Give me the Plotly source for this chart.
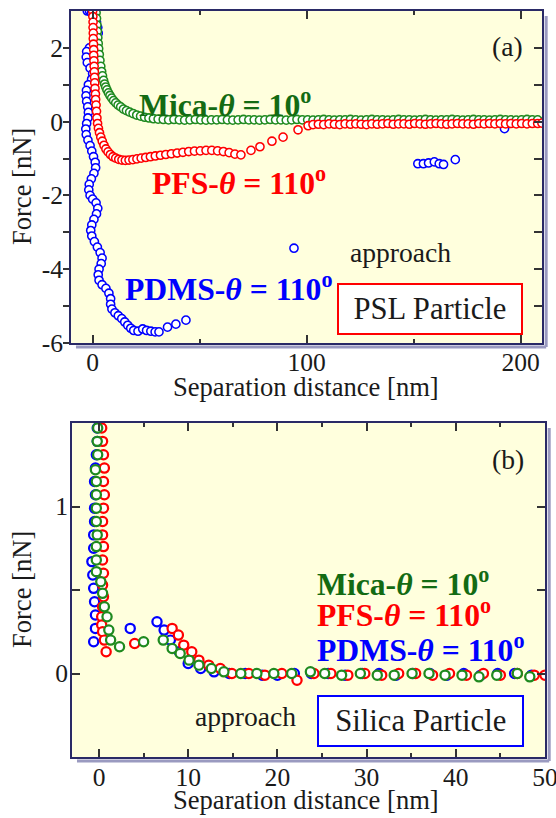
import plotly.graph_objects as go

# ---------------- Panel (a): PSL particle ----------------
mica_a_x = [1.6, 1.8, 2.0, 2.2, 2.4, 2.6, 2.8, 3.1, 3.4, 3.8, 4.2, 4.6, 5.1, 5.6, 6.1, 6.7, 7.4, 8.1,
            8.9, 9.8, 10.8, 11.9, 13.1, 14.4, 15.8, 17.3, 18.9, 20.6, 22.4, 24.3, 26.3, 28.4, 30.6, 33.0,
            35.5, 38.0, 40.5, 43.0, 45.5, 48.0, 50.5, 53.0, 55.5, 58.0, 60.5, 63.0, 65.5, 68.0, 70.5,
            73.0, 75.5, 78.0, 80.5, 83.0, 85.5, 88.0, 90.5, 93.0, 95.5, 98.0, 100.5, 103.0, 105.5, 108.0,
            110.5, 113.0, 115.5, 118.0, 120.5, 123.0, 125.5, 128.0, 130.5, 133.0, 135.5, 138.0, 140.5,
            143.0, 145.5, 148.0, 150.5, 153.0, 155.5, 158.0, 160.5, 163.0, 165.5, 168.0, 170.5, 173.0,
            175.5, 178.0, 180.5, 183.0, 185.5, 188.0, 190.5, 193.0, 195.5, 198.0, 200.5, 203.0, 205.5, 208.0]
mica_a_y = [2.95, 2.8, 2.62, 2.45, 2.28, 2.12, 1.98, 1.82, 1.66, 1.5, 1.36, 1.24, 1.12, 1.02, 0.94, 0.86,
            0.78, 0.71, 0.64, 0.57, 0.51, 0.45, 0.40, 0.34, 0.30, 0.26, 0.22, 0.18, 0.15, 0.12, 0.10, 0.08,
            0.07, 0.06, 0.05, 0.06, 0.05, 0.04, 0.05, 0.06, 0.05, 0.04, 0.05, 0.05, 0.06, 0.05, 0.04, 0.05,
            0.06, 0.05, 0.05, 0.04, 0.05, 0.06, 0.05, 0.05, 0.04, 0.05, 0.06, 0.05, 0.05, 0.04, 0.05, 0.06,
            0.05, 0.04, 0.05, 0.05, 0.06, 0.05, 0.04, 0.05, 0.06, 0.05, 0.05, 0.04, 0.05, 0.06, 0.05, 0.05,
            0.04, 0.05, 0.06, 0.05, 0.04, 0.05, 0.05, 0.06, 0.05, 0.04, 0.05, 0.06, 0.05, 0.05, 0.04, 0.05,
            0.06, 0.05, 0.05, 0.04, 0.05, 0.06, 0.05, 0.05]

pfs_a_x = [0.0, 0.1, 0.2, 0.2, 0.3, 0.3, 0.4, 0.5, 0.5, 0.6, 0.7, 0.8, 0.9, 1.0, 1.1, 1.3, 1.4, 1.6, 1.8,
           2.0, 2.3, 2.7, 3.2, 3.8, 4.5, 5.3, 6.2, 7.2, 8.3, 9.5, 10.8, 12.2, 13.7, 15.3, 17.0, 18.8, 20.7,
           22.7, 24.8, 27.0, 29.3, 31.7, 34.2, 36.8, 39.5, 42.2, 44.9, 47.6, 50.3, 53.0, 55.7, 58.4, 61.1,
           63.8, 66.5, 69.3, 74.0, 78.2, 83.8, 89.0, 96.0, 100.7, 103.0, 105.5, 108.0, 110.5, 113.0, 115.5,
           118.0, 120.5, 123.0, 125.5, 128.0, 130.5, 133.0, 135.5, 138.0, 140.5, 143.0, 145.5, 148.0, 150.5,
           153.0, 155.5, 158.0, 160.5, 163.0, 165.5, 168.0, 170.5, 173.0, 175.5, 178.0, 180.5, 183.0, 185.5,
           188.0, 190.5, 193.0, 195.5, 198.0, 200.5, 203.0, 205.5, 208.0, 210.0]
pfs_a_y = [3.0, 2.85, 2.7, 2.55, 2.4, 2.25, 2.1, 1.95, 1.8, 1.65, 1.5, 1.35, 1.2, 1.05, 0.9, 0.75, 0.6, 0.45,
           0.28, 0.1, -0.05, -0.18, -0.3, -0.42, -0.53, -0.64, -0.74, -0.82, -0.89, -0.95, -0.99, -1.02,
           -1.04, -1.05, -1.04, -1.03, -1.01, -0.99, -0.97, -0.95, -0.93, -0.91, -0.89, -0.87, -0.85, -0.83,
           -0.81, -0.8, -0.79, -0.78, -0.78, -0.79, -0.81, -0.84, -0.88, -0.9, -0.78, -0.68, -0.53, -0.42,
           -0.22, -0.11, -0.08, -0.07, -0.08, -0.06, -0.07, -0.08, -0.06, -0.07, -0.06, -0.07, -0.08, -0.06,
           -0.07, -0.06, -0.05, -0.07, -0.06, -0.06, -0.07, -0.05, -0.06, -0.07, -0.06, -0.05, -0.06, -0.07,
           -0.06, -0.05, -0.06, -0.06, -0.07, -0.05, -0.06, -0.05, -0.06, -0.05, -0.06, -0.05, -0.06,
           -0.05, -0.06, -0.05, -0.05, -0.04]

pdms_a_x = [-2.5, -1.5, -0.5, 0.8, 1.8, 2.4, 2.6, 2.2, 0.5, -1.5, -2.8, -3.0, -2.5, -1.2, 0.0, -0.5, -2.0,
            -2.9, -3.1, -2.8, -2.3, -2.0, -2.2, -2.8, -3.2, -3.0, -2.2, -1.2, -0.4, 0.4, 1.2, 1.4, 0.6, -0.6,
            -1.6, -1.8, -1.2, 0.0, 1.6, 2.4, 1.8, 0.6, -0.4, -0.9, -0.4, 0.8, 2.2, 3.5, 4.4, 4.0, 3.0, 2.6,
            3.0, 4.4, 6.2, 7.6, 8.4, 8.4, 9.0, 10.4, 12.0, 13.6, 15.0, 16.4, 17.8, 19.2, 21.2, 23.4, 25.2,
            27.2, 29.2, 31.0, 35.0, 38.9, 43.6, 94.1, 152.0, 154.6, 157.0, 159.7, 162.0, 164.0, 169.5,
            192.5, 210.0]
pdms_a_y = [3.0, 3.0, 2.95, 2.85, 2.7, 2.55, 2.4, 2.25, 2.1, 2.0, 1.9, 1.75, 1.6, 1.45, 1.3, 1.15, 1.0,
            0.85, 0.7, 0.55, 0.4, 0.25, 0.1, -0.05, -0.2, -0.35, -0.5, -0.65, -0.8, -0.95, -1.1, -1.25,
            -1.4, -1.55, -1.7, -1.85, -2.0, -2.1, -2.2, -2.35, -2.5, -2.65, -2.8, -2.95, -3.1, -3.25, -3.4,
            -3.55, -3.7, -3.85, -4.0, -4.15, -4.3, -4.42, -4.52, -4.65, -4.8, -4.95, -5.08, -5.18, -5.26,
            -5.34, -5.43, -5.52, -5.6, -5.66, -5.68, -5.62, -5.66, -5.68, -5.7, -5.7, -5.57, -5.49, -5.38,
            -3.43, -1.14, -1.14, -1.12, -1.09, -1.14, -1.16, -1.03, -0.19, -0.02]

# ---------------- Panel (b): Silica particle ----------------
mica_b_x = [-0.15, -0.2, -0.15, -0.4, -0.3, -0.3, -0.3, -0.3, -0.2, -0.3, -0.3, -0.3, 0.2, 0.4, 0.6, 0.9,
            1.1, 1.3, 2.3, 5.0, 7.2, 8.2, 9.1, 10.1, 11.2, 12.6, 14.0, 15.9, 17.7, 19.6, 21.6, 23.7, 25.3,
            27.2, 29.3, 31.2, 33.1, 35.1, 37.0, 38.8, 40.7, 42.6, 44.6, 46.9, 48.3]
mica_b_y = [1.47, 1.39, 1.31, 1.22, 1.15, 1.07, 0.99, 0.91, 0.83, 0.76, 0.68, 0.61, 0.55, 0.48, 0.40, 0.34,
            0.26, 0.20, 0.16, 0.19, 0.20, 0.15, 0.12, 0.08, 0.05, 0.03, 0.01, 0.0, 0.0, 0.0, 0.0, 0.01, 0.0,
            -0.01, 0.0, -0.01, -0.01, 0.0, 0.0, -0.01, -0.01, -0.02, -0.01, 0.0, -0.02]

pfs_b_x = [0.3, 0.4, 0.5, 0.6, 0.5, 0.6, 0.5, 0.4, 0.4, 0.5, 0.4, 0.5, 0.4, 0.5, 0.4, 0.3, 0.3, 0.4, 0.6,
           0.8, 4.0, 8.2, 8.9, 9.5, 10.4, 11.2, 12.3, 13.6, 14.9, 16.8, 18.6, 20.5, 22.2, 24.1, 26.0, 27.9,
           29.8, 31.7, 33.6, 35.5, 37.4, 39.3, 41.2, 43.1, 45.0, 46.9, 48.8, 50.0]
pfs_b_y = [1.47, 1.39, 1.31, 1.23, 1.15, 1.07, 0.99, 0.91, 0.83, 0.76, 0.68, 0.60, 0.53, 0.46, 0.40, 0.34,
           0.29, 0.25, 0.20, 0.13, 0.18, 0.27, 0.23, 0.17, 0.13, 0.08, 0.05, 0.03, 0.0, 0.0, -0.01, 0.0,
           -0.04, 0.0, 0.0, -0.01, 0.0, -0.01, 0.0, 0.0, -0.01, 0.0, -0.01, 0.0, -0.01, 0.0, -0.01, -0.01]

pdms_b_x = [-0.2, -0.2, -0.3, -0.4, -0.5, -0.4, -0.5, -0.5, -0.6, -0.6, -0.8, -0.7, -0.6, -0.5, -0.4, -0.4,
            -0.6, 3.5, 6.5, 7.3, 8.0, 9.0, 10.0, 11.4, 12.9, 14.6, 16.4, 18.3, 20.0, 21.9, 23.8, 25.7, 27.6,
            29.5, 31.4, 33.3, 35.2, 37.1, 39.0, 40.9, 42.8, 44.7, 46.6, 48.5]
pdms_b_y = [1.47, 1.39, 1.31, 1.23, 1.15, 1.07, 0.99, 0.91, 0.83, 0.75, 0.67, 0.59, 0.51, 0.43, 0.35, 0.27,
            0.19, 0.27, 0.31, 0.26, 0.20, 0.13, 0.06, 0.03, 0.01, 0.0, 0.0, -0.01, -0.01, 0.0, 0.0, 0.0,
            -0.01, 0.0, 0.0, -0.01, 0.0, 0.0, -0.01, 0.0, -0.01, 0.0, 0.0, -0.01]

# tick labels
a_xticks = [0, 100, 200]
a_yticks = [-6, -4, -2, 0, 2]
a_yticktext = ["-6", "-4", "-2", "0", "2"]
b_xticks = [0, 10, 20, 30, 40, 50]
b_yticks = [0, 1]

GREEN = "#1f8a1f"
GREEN_TXT = "#136b13"
RED = "#ff0000"
BLUE = "#0000ff"
FONT = "Liberation Serif"
BG = "#FFFFDD"
FRAME = "#2a2a66"
SHADOW = "#9a9ac0"
INK = "#1a1a1a"

# target picture size and the size of the drawn figure (the photographed area is a bit larger
# than the window, so the figure is drawn at that size; all positions are fractions of it)
W, H = 556, 818
FW, FH = 571, 833
K = (FW / W + FH / H) / 2  # pixel-size scale


def px(v):
    return v * K


fig = go.Figure()


def add(x, y, color, xa, ya, size, lw):
    fig.add_trace(go.Scatter(x=x, y=y, mode="markers", xaxis=xa, yaxis=ya, showlegend=False,
                             marker=dict(symbol="circle", size=px(size), color="white",
                                         line=dict(color=color, width=px(lw)))))


add(pdms_a_x, pdms_a_y, BLUE, "x", "y", 8, 1.5)
add(mica_a_x, mica_a_y, GREEN, "x", "y", 8, 1.5)
add(pfs_a_x, pfs_a_y, RED, "x", "y", 8, 1.5)
add(pdms_b_x, pdms_b_y, BLUE, "x2", "y2", 9, 2.2)
add(pfs_b_x, pfs_b_y, RED, "x2", "y2", 9, 2.2)
add(mica_b_x, mica_b_y, GREEN, "x2", "y2", 9, 2.2)
# carrier for the inward right-hand ticks of panel (a)
fig.add_trace(go.Scatter(x=[None], y=[None], xaxis="x", yaxis="y3", showlegend=False, hoverinfo="skip"))

tickfont = dict(family=FONT, size=px(25), color=INK)
titlefont = dict(family=FONT, size=px(26), color=INK)

common = dict(showline=True, linecolor=FRAME, linewidth=2, showgrid=False, zeroline=False,
              tickcolor="#333333", tickwidth=1.5, tickfont=tickfont)

fig.update_layout(
    width=FW, height=FH, paper_bgcolor="white", plot_bgcolor=BG,
    margin=dict(l=0, r=0, t=0, b=0),
    xaxis=dict(domain=[71 / W, 540 / W], anchor="y", range=[-10, 210], tickvals=a_xticks,
               ticks="inside", ticklen=px(8), mirror="ticks",
               minor=dict(tickvals=[50, 150], ticks="inside", ticklen=px(4), tickcolor="#333333"),
               ticklabelstandoff=-5, **common),
    yaxis=dict(domain=[1 - 343 / H, 1 - 11 / H], anchor="x", range=[-6, 3], tickvals=a_yticks,
               ticktext=a_yticktext, ticks="outside", ticklen=px(6), mirror=True,
               minor=dict(tickvals=[-5, -3, -1, 1], ticks="outside", ticklen=px(6), tickcolor="#333333"),
               ticklabelstandoff=-5, **common),
    yaxis3=dict(overlaying="y", side="right", anchor="x", range=[-6, 3], tickvals=a_yticks,
                ticks="inside", ticklen=px(8), showticklabels=False, showline=False, showgrid=False,
                zeroline=False, tickcolor="#333333", tickwidth=1.5,
                minor=dict(tickvals=[-5, -3, -1, 1], ticks="inside", ticklen=px(8), tickcolor="#333333")),
    xaxis2=dict(domain=[72 / W, 543 / W], anchor="y2", range=[-3, 50], tickvals=b_xticks,
                ticks="inside", ticklen=px(8), mirror="ticks",
                minor=dict(tickvals=[5, 15, 25, 35, 45], ticks="inside", ticklen=px(4), tickcolor="#333333"),
                ticklabelstandoff=-4, **common),
    yaxis2=dict(domain=[1 - 757 / H, 1 - 423 / H], anchor="x2", range=[-0.5, 1.5], tickvals=b_yticks,
                ticks="inside", ticklen=px(8), mirror="ticks",
                minor=dict(tickvals=[0.5], ticks="inside", ticklen=px(8), tickcolor="#333333"),
                ticklabelstandoff=-3, **common),
)

# drop shadow of the two frames (right and bottom edges)
shapes = []
for xr, yr in (("x domain", "y domain"), ("x2 domain", "y2 domain")):
    shapes.append(dict(type="line", xref=xr, yref=yr, x0=1.009, x1=1.009, y0=-0.012, y1=0.985,
                       line=dict(color=SHADOW, width=3)))
    shapes.append(dict(type="line", xref=xr, yref=yr, x0=0.01, x1=1.009, y0=-0.012, y1=-0.012,
                       line=dict(color=SHADOW, width=3)))
fig.update_layout(shapes=shapes)

bold = dict(family=FONT, size=px(31))
plain = dict(family=FONT, size=px(27), color=INK)
boxfont = dict(family=FONT, size=px(30), color=INK)
ann = [
    # axis titles
    dict(x=305 / W, y=1 - 387 / H, xref="paper", yref="paper", text="Separation distance [nm]", font=titlefont),
    dict(x=305 / W, y=1 - 800 / H, xref="paper", yref="paper", text="Separation distance [nm]", font=titlefont),
    dict(x=22 / W, y=1 - 187 / H, xref="paper", yref="paper", text="Force [nN]", textangle=-90, font=titlefont),
    dict(x=22 / W, y=1 - 590 / H, xref="paper", yref="paper", text="Force [nN]", textangle=-90, font=titlefont),
    # panel (a)
    dict(x=20.5, y=0.5, xref="x", yref="y", xanchor="left", text="<b>Mica-<i>θ</i> = 10<sup>o</sup></b>",
         font=dict(color=GREEN_TXT, **bold)),
    dict(x=26.6, y=-1.6, xref="x", yref="y", xanchor="left", text="<b>PFS-<i>θ</i> = 110<sup>o</sup></b>",
         font=dict(color=RED, **bold)),
    dict(x=14.4, y=-4.49, xref="x", yref="y", xanchor="left", text="<b>PDMS-<i>θ</i> = 110<sup>o</sup></b>",
         font=dict(color=BLUE, **bold)),
    dict(x=144, y=-3.54, xref="x", yref="y", text="approach", font=plain),
    dict(x=194, y=2.05, xref="x", yref="y", text="(a)", font=plain),
    dict(x=157.5, y=-5.08, xref="x", yref="y", text="PSL Particle", width=px(176), height=px(45),
         borderpad=1, bgcolor="white", bordercolor=RED, borderwidth=2, font=boxfont),
    # panel (b)
    dict(x=24.25, y=0.55, xref="x2", yref="y2", xanchor="left", text="<b>Mica-<i>θ</i> = 10<sup>o</sup></b>",
         font=dict(color=GREEN_TXT, **bold)),
    dict(x=24.25, y=0.36, xref="x2", yref="y2", xanchor="left", text="<b>PFS-<i>θ</i> = 110<sup>o</sup></b>",
         font=dict(color=RED, **bold)),
    dict(x=24.25, y=0.15, xref="x2", yref="y2", xanchor="left", text="<b>PDMS-<i>θ</i> = 110<sup>o</sup></b>",
         font=dict(color=BLUE, **bold)),
    dict(x=16.4, y=-0.26, xref="x2", yref="y2", text="approach", font=plain),
    dict(x=45.9, y=1.28, xref="x2", yref="y2", text="(b)", font=plain),
    dict(x=36.1, y=-0.285, xref="x2", yref="y2", text="Silica Particle", width=px(197), height=px(45),
         borderpad=1, bgcolor="white", bordercolor=BLUE, borderwidth=2, font=boxfont),
]
for a in ann:
    a.setdefault("showarrow", False)
    a.setdefault("xanchor", "center")
    a.setdefault("yanchor", "middle")
fig.update_layout(annotations=ann)

post = """
document.documentElement.style.overflow='hidden';
document.body.style.margin='0';
document.body.style.overflow='hidden';
"""

fig.write_html("out.html", config={"displayModeBar": False}, post_script=post)
